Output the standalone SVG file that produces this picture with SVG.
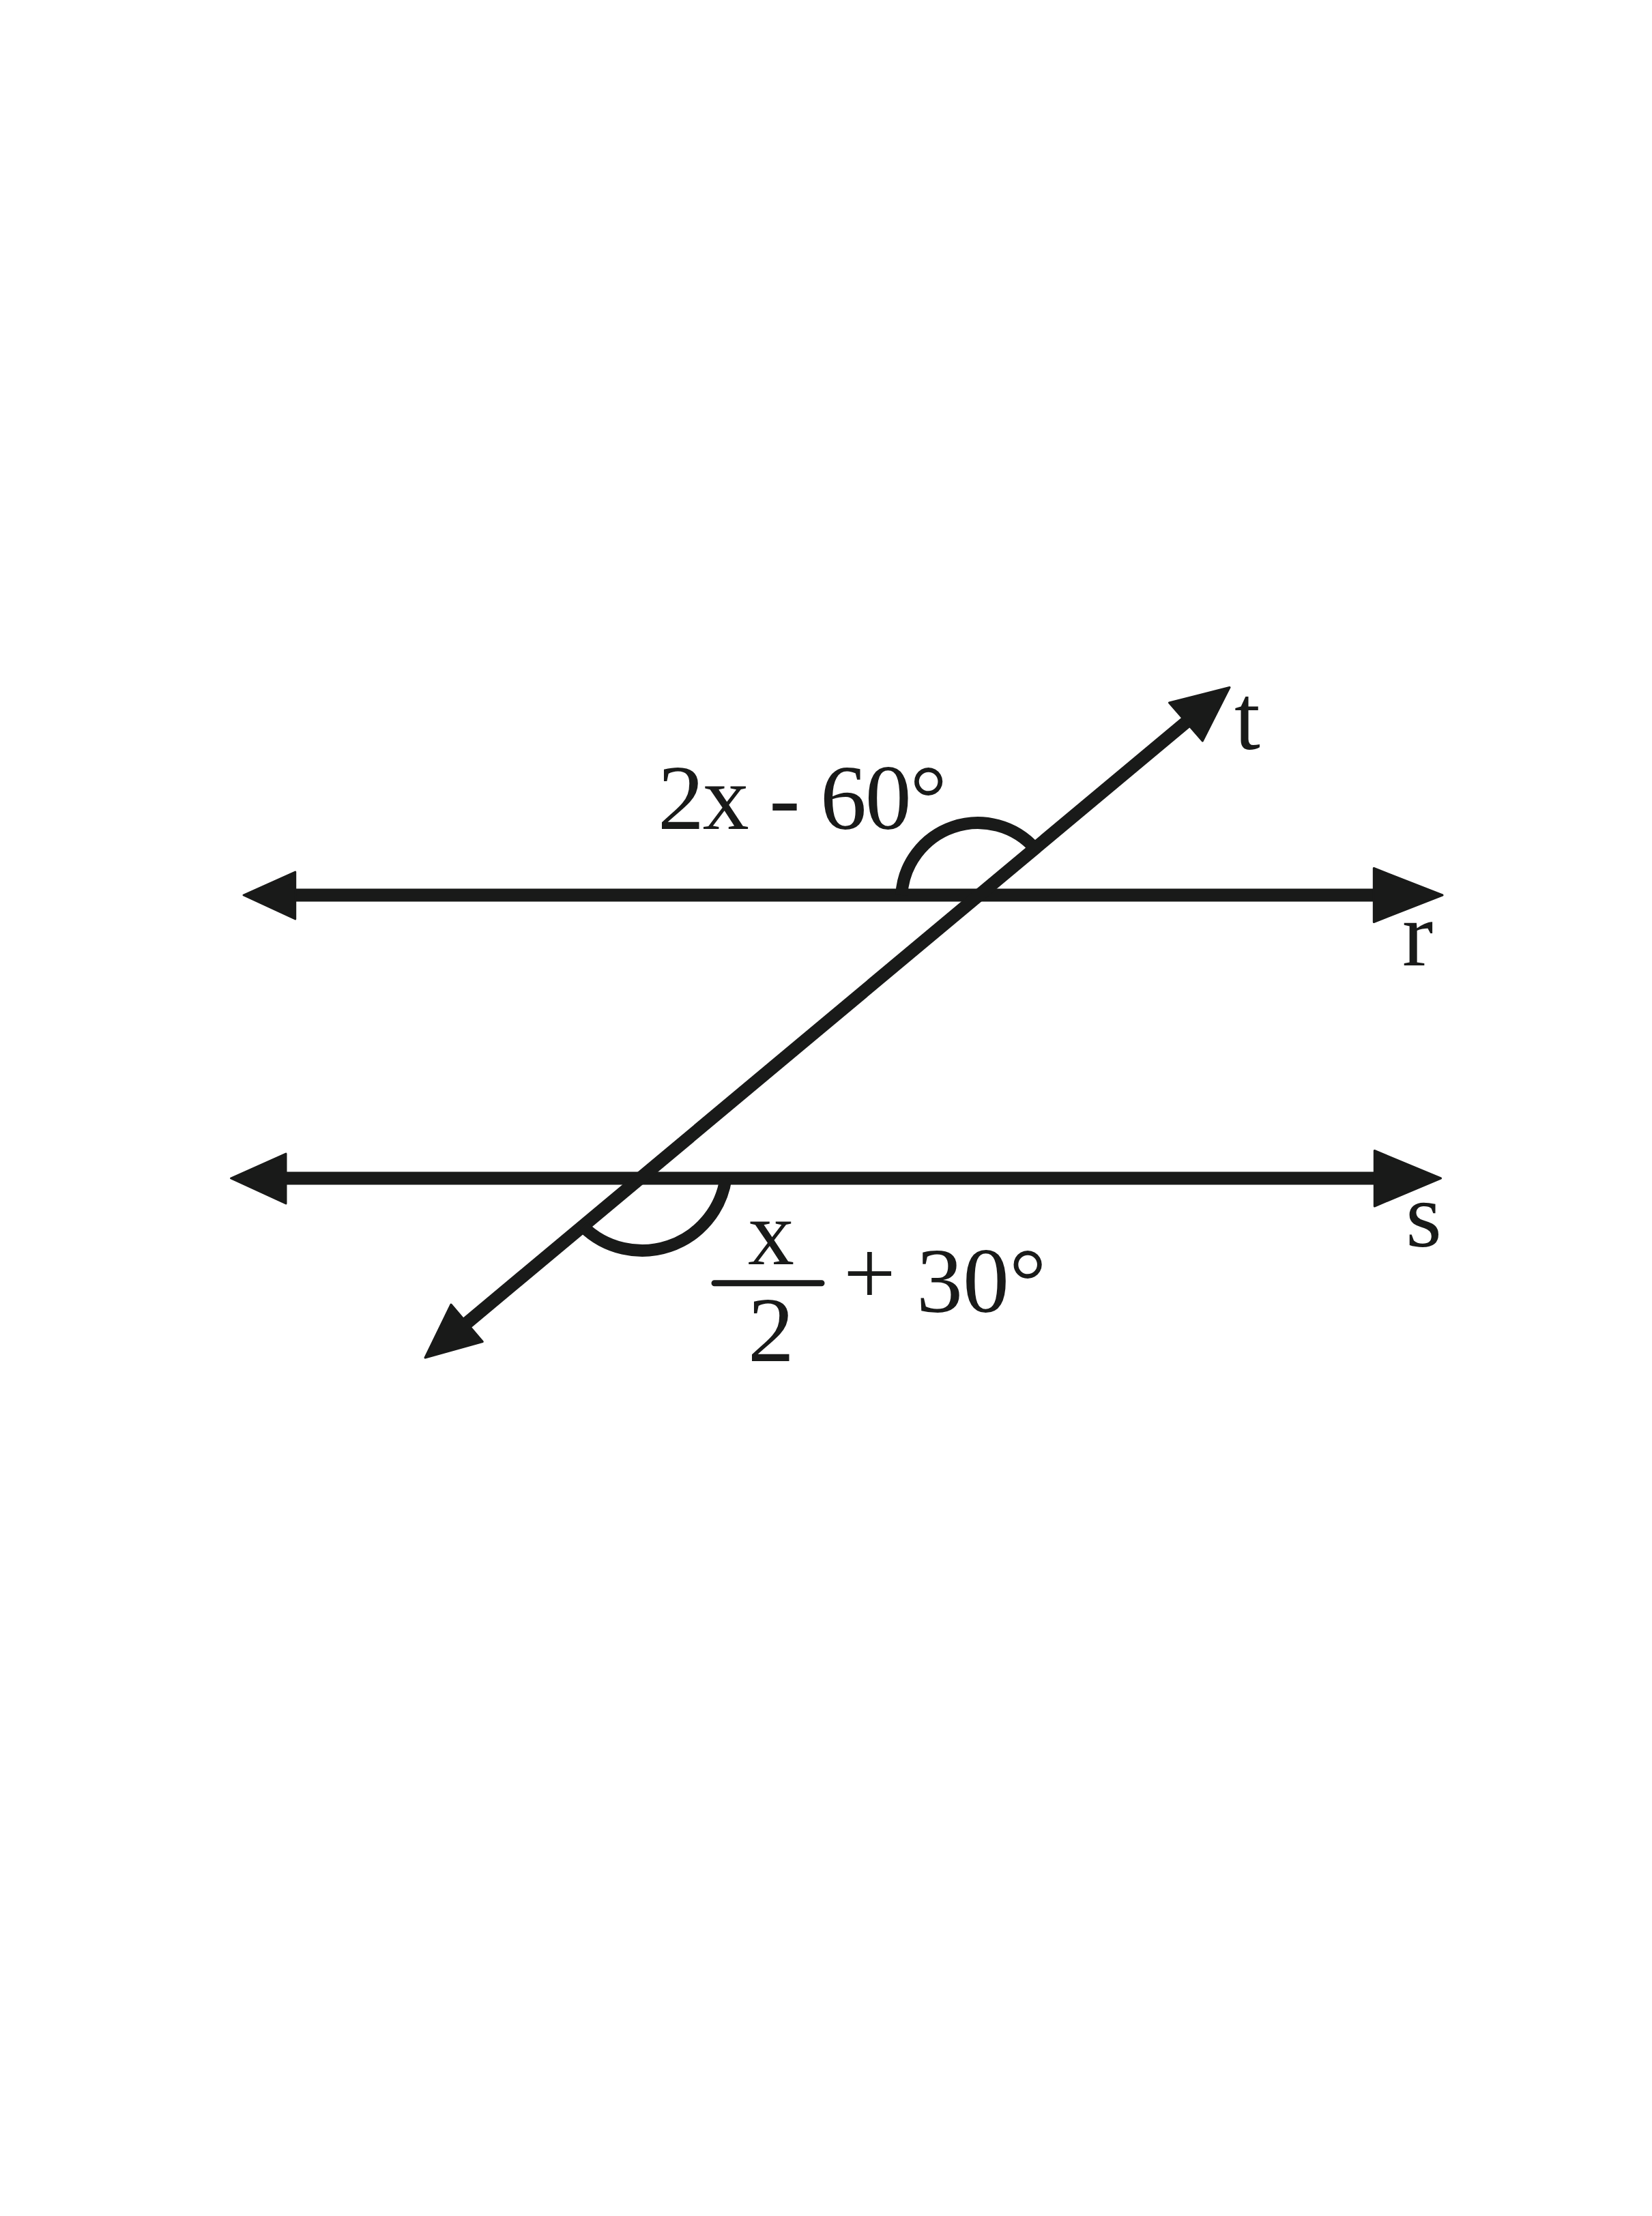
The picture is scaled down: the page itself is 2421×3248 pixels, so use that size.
<svg xmlns="http://www.w3.org/2000/svg" width="2421" height="3248" viewBox="0 0 2421 3248">
<style>
.ln{stroke:#191a19;stroke-width:19;fill:none;stroke-linecap:butt}
.arc{stroke:#191a19;stroke-width:18;fill:none;stroke-linecap:butt}
.hd{fill:#191a19;stroke:#191a19;stroke-width:3;stroke-linejoin:round}
.tx{font-family:"Liberation Serif","Times New Roman",serif;fill:#191a19;font-size:136px}
</style>
<rect width="2421" height="3248" fill="#ffffff"/>
<g id="connectors">
  <g id="line-r">
    <line class="ln" x1="430" y1="1312" x2="2016" y2="1312"/>
    <polygon class="hd" points="357,1312 432.7,1278 432.7,1347"/>
    <polygon class="hd" points="2114,1312 2013.3,1272.5 2013.3,1351.5"/>
  </g>
  <g id="line-s">
    <line class="ln" x1="416" y1="1727" x2="2017" y2="1727"/>
    <polygon class="hd" points="338.5,1727 419,1691 419,1764"/>
    <polygon class="hd" points="2111.5,1727 2014.3,1686.5 2014.3,1768"/>
  </g>
  <g id="line-t">
    <line class="ln" x1="682" y1="1941" x2="1740" y2="1057"/>
    <polygon class="hd" points="1802,1007.5 1713.5,1030 1762.3,1086"/>
    <polygon class="hd" points="623,1990 661,1912 707.3,1966.5"/>
  </g>
</g>
<g id="angle-top">
  <path class="arc" d="M 1321.2 1312 A 112 112 0 0 1 1517.5 1244.5"/>
</g>
<g id="angle-bottom">
  <path class="arc" d="M 1063.7 1727 A 124 124 0 0 1 854 1797.3"/>
</g>
<g id="label-top">
  <text class="tx" x="964" y="1215" textLength="424" lengthAdjust="spacing">2x - 60°</text>
</g>
<g id="label-bottom">
  <text class="tx" x="1130" y="1853" text-anchor="middle" font-size="128">x</text>
  <line x1="1047" y1="1880.7" x2="1204" y2="1880.7" stroke="#191a19" stroke-width="9" stroke-linecap="round"/>
  <text class="tx" x="1130" y="1995" text-anchor="middle" font-size="128">2</text>
  <text class="tx" x="1236" y="1912">+</text>
  <text class="tx" x="1343" y="1923">30°</text>
</g>
<g id="label-t"><text class="tx" x="1809" y="1098" font-size="146">t</text></g>
<g id="label-r"><text class="tx" x="2055" y="1415">r</text></g>
<g id="label-s"><text class="tx" x="2060" y="1827">s</text></g>
</svg>
